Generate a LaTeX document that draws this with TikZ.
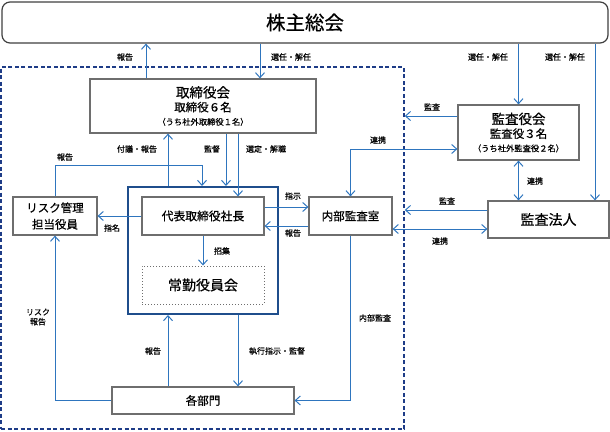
\documentclass[tikz,border=0pt]{standalone}
\usepackage{fontspec}
\setmainfont{Noto Sans CJK JP}[FakeBold=0.6]
\usetikzlibrary{arrows.meta}

\definecolor{lineblue}{RGB}{46,117,190}
\definecolor{framenavy}{RGB}{30,60,135}
\definecolor{groupnavy}{RGB}{31,78,140}
\definecolor{boxgray}{RGB}{110,110,110}

\tikzset{
  box/.style={draw=boxgray, line width=1.2pt, fill=white, align=center, inner sep=0pt},
  lbl/.style={font=\fontsize{8}{9.5}\selectfont, align=center, inner sep=0pt},
  arr/.style={draw=lineblue, line width=1pt, -{Straight Barb[length=5pt,width=9pt]}},
  darr/.style={draw=lineblue, line width=1pt, {Straight Barb[length=5pt,width=9pt]}-{Straight Barb[length=5pt,width=9pt]}},
  wire/.style={draw=lineblue, line width=1pt}
}

\begin{document}
\begin{tikzpicture}[x=1pt, y=-1pt]
                \useasboundingbox (0,0) rectangle (610,431);
                % Boxes:
                \node[box, draw=black!75, rounded corners=8pt, minimum width=606pt, minimum height=41pt, font=\fontsize{19.5}{21}\selectfont](gm) at (305,22.5){株主総会};
                \node[draw=framenavy, line width=1.6pt, dash pattern=on 4pt off 2.5pt, minimum width=403pt, minimum height=362pt, inner sep=0pt](frame) at (202.5,248){};
                \node[box, minimum width=226pt, minimum height=54pt](board) at (203,106){{\fontsize{13.5}{15}\selectfont 取締役会}\\[2pt]{\fontsize{11.5}{13}\selectfont 取締役６名}\\[1.5pt]{\fontsize{8.3}{10}\selectfont （うち社外取締役１名）}};
                \node[box, minimum width=121pt, minimum height=55pt](auditbd) at (518.5,132.5){{\fontsize{13.5}{15}\selectfont 監査役会}\\[2pt]{\fontsize{11.5}{13}\selectfont 監査役３名}\\[1.5pt]{\fontsize{8.3}{10}\selectfont （うち社外監査役２名）}};
                \node[box, minimum width=83pt, minimum height=38pt, font=\fontsize{11.5}{13}\selectfont](internal) at (350.5,216){内部監査室};
                \node[box, minimum width=121pt, minimum height=37pt, font=\fontsize{14}{16}\selectfont](auditor) at (548.5,219.5){監査法人};
                \node[draw=groupnavy, line width=2pt, minimum width=150pt, minimum height=127pt, inner sep=0pt](group) at (203,250.5){};
                \node[box, minimum width=122pt, minimum height=38pt, font=\fontsize{11.8}{13}\selectfont](ceo) at (203,216){代表取締役社長};
                \node[draw=boxgray, line width=1pt, dotted, minimum width=122pt, minimum height=38pt, inner sep=0pt, font=\fontsize{14}{16}\selectfont](jokin) at (203,285){常勤役員会};
                \node[box, minimum width=84pt, minimum height=38pt, font=\fontsize{11.5}{16.5}\selectfont](risk) at (55,216){リスク管理\\担当役員};
                \node[box, minimum width=182pt, minimum height=27pt, font=\fontsize{11.5}{13}\selectfont](dept) at (203,400.5){各部門};
                % Connectors:
                \draw[arr] (board.north -| 146,0) -- (gm.south -| 146,0);
                \draw[arr] (gm.south -| 260,0) -- (board.north -| 260,0);
                \draw[arr] (gm.south -| auditbd.north) -- (auditbd.north);
                \draw[arr] (gm.south -| 595,0) -- (auditor.north -| 595,0);
                \draw[arr] (auditbd.west |- 0,116) -- (frame.east |- 0,116);
                \draw[darr] (auditbd.west |- 0,149) -| (internal.north);
                \draw[darr] (auditbd.south) -- (auditbd.south |- auditor.north);
                \draw[arr] (auditor.west |- 0,210) -- (frame.east |- 0,210);
                \draw[darr] (internal.east |- 0,229) -- (auditor.west |- 0,229);
                \draw[arr] (group.north -| 168,0) -- (board.south -| 168,0);
                \draw[arr] (board.south -| 226,0) -- (group.north -| 226,0);
                \draw[arr] (board.south -| 238,0) -- (ceo.north -| 238,0);
                \draw[arr] (risk.north) |- (202,165) -- (group.north -| 202,0);
                \draw[arr] (ceo.west) -- (risk.east);
                \draw[arr] (ceo.east |- 0,207) -- (internal.west |- 0,207);
                \draw[arr] (internal.west |- 0,226) -- (ceo.east |- 0,226);
                \draw[arr] (ceo.south) -- (jokin.north);
                \draw[arr] (dept.north -| 168,0) -- (group.south -| 168,0);
                \draw[arr] (group.south -| 238,0) -- (dept.north -| 238,0);
                \draw[arr] (dept.west) -| (risk.south);
                \draw[arr] (internal.south) |- (dept.east);
                % Labels:
                \node[lbl](l1) at (125,57){報告};
                \node[lbl](l2) at (291,57){選任・解任};
                \node[lbl](l3) at (488,57){選任・解任};
                \node[lbl](l4) at (565,57){選任・解任};
                \node[lbl](l5) at (432,107){監査};
                \node[lbl](l6) at (378,140){連携};
                \node[lbl](l7) at (535,181){連携};
                \node[lbl](l8) at (447,201){監査};
                \node[lbl](l9) at (440,241){連携};
                \node[lbl](l10) at (137,149){付議・報告};
                \node[lbl](l11) at (212,149){監督};
                \node[lbl](l12) at (266,149){選定・解職};
                \node[lbl](l13) at (65,157){報告};
                \node[lbl](l14) at (112,228){指名};
                \node[lbl](l15) at (293,196){指示};
                \node[lbl](l16) at (293,233){報告};
                \node[lbl](l17) at (222,251){招集};
                \node[lbl](l18) at (153,351){報告};
                \node[lbl](l19) at (277,351){執行指示・監督};
                \node[lbl](l20) at (38,317){リスク\\報告};
                \node[lbl](l21) at (375,318){内部監査};
            \end{tikzpicture}
\end{document}
